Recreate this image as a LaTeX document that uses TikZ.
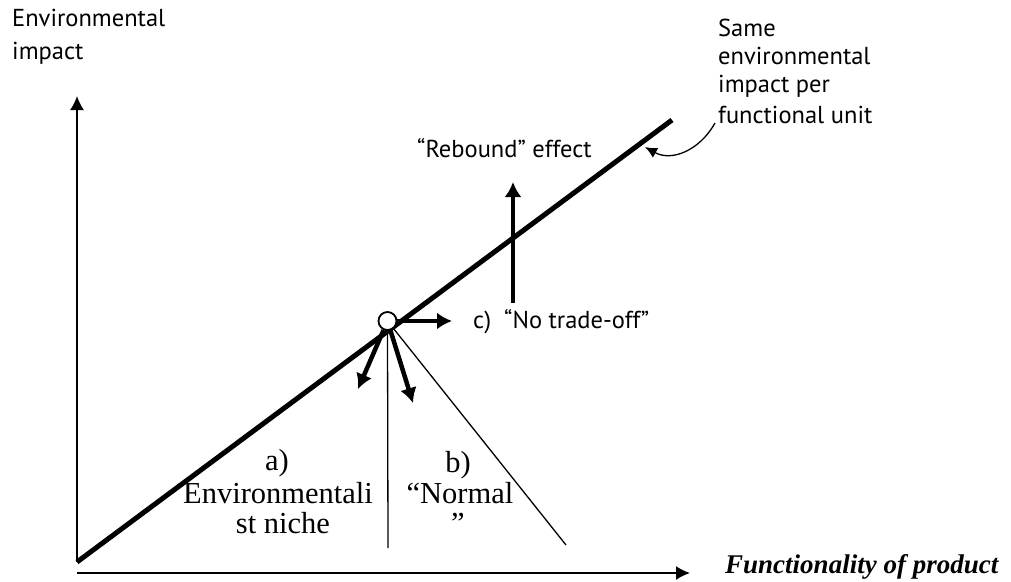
\documentclass[tikz,border=0pt]{standalone}
\usepackage{fontspec}
\setmainfont{Liberation Serif}
\setsansfont{PT Sans}
\usetikzlibrary{arrows.meta}
\begin{document}
\begin{tikzpicture}[x=1pt,y=-1pt,
  axis/.style={line width=1.6pt,-{Latex[length=14pt,width=14pt]}},
  thickline/.style={line width=5pt},
  bigarrow/.style={line width=4.5pt,-{Latex[length=15pt,width=17pt]}},
  thinline/.style={line width=1.3pt},
  curvearrow/.style={line width=1.3pt,-{Latex[length=12pt,width=11pt]}},
  sanslbl/.style={font=\sffamily\fontsize{24.5}{28}\selectfont, inner sep=0pt, anchor=base west},
  seriflbl/.style={font=\rmfamily\fontsize{30.5}{31}\selectfont, inner sep=0pt, anchor=base},
  titlelbl/.style={font=\rmfamily\bfseries\itshape\fontsize{27}{30}\selectfont, inner sep=0pt, anchor=base west},
]
\useasboundingbox (0,0) rectangle (1011,581);

% axes
\coordinate (O) at (77,562);
\coordinate (Ytop) at (77,96);
\coordinate (Xs) at (77,573);
\coordinate (Xe) at (690,573);
\draw[axis] (O) -- (Ytop);
\draw[axis] (Xs) -- (Xe);

% main line
\coordinate (Lend) at (672,120);
\draw[thickline] (O) -- (Lend);

% circle
\node[circle, draw, line width=1.8pt, fill=white, minimum size=18pt, inner sep=0pt] (c) at (387.5,321) {};

% thin boundary lines
\coordinate (vEnd) at (388,548);
\coordinate (dEnd) at (566,545);
\draw[thinline] (c.south) -- (vEnd);
\draw[thinline] (c) -- (dEnd);

% arrows
\coordinate (aTip) at (358,389);
\coordinate (bTip) at (413,403);
\coordinate (ntTip) at (452,321);
\draw[bigarrow] (c) -- (aTip);
\draw[bigarrow] (c) -- (bTip);
\draw[bigarrow] (c) -- (ntTip);
\coordinate (rbS) at (513,303);
\coordinate (rbT) at (513,182);
\draw[bigarrow] (rbS) -- (rbT);

% curved pointer
\coordinate (cs) at (715,123);
\coordinate (ct) at (645,147);
\draw[curvearrow] (cs) .. controls (700,150) and (672,162) .. (ct);

% labels
\node[sanslbl] (y1) at (12,26) {Environmental};
\node[sanslbl] (y2) at (12,59) {impact};
\node[sanslbl] (s1) at (718,36) {Same};
\node[sanslbl] (s2) at (718,64) {environmental};
\node[sanslbl] (s3) at (718,92) {impact per};
\node[sanslbl] (s4) at (718,123) {functional unit};
\node[sanslbl] (rb) at (417,157) {“Rebound” effect};
\node[sanslbl] (nt) at (473,328) {c)\ \ “No trade-off”};
\node[seriflbl] (a1) at (277,470) {a)};
\node[seriflbl] (a2) at (278,503) {Environmentali};
\node[seriflbl] (a3) at (283,533) {st niche};
\node[seriflbl] (b1) at (458,472) {b)};
\node[seriflbl] (b2) at (460,503) {“Normal};
\node[seriflbl] (b3) at (458,533) {”};
\node[titlelbl] (fx) at (725,573) {Functionality of product};
\end{tikzpicture}
\end{document}
